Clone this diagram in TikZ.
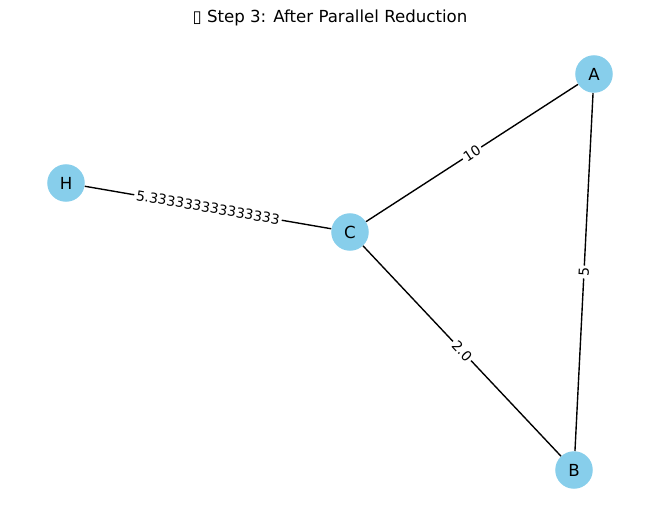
\documentclass[tikz,border=0pt]{standalone}
\usepackage{fontspec}
\setmainfont{DejaVu Sans}
\definecolor{skyblue}{HTML}{87CEEB}
\begin{document}
\begin{tikzpicture}[x=0.01in,y=-0.01in,
  vertex/.style={circle,fill=skyblue,draw=none,minimum size=0.375in,inner sep=0pt,font=\fontsize{12}{14}\selectfont},
  edge/.style={draw=black,line width=1pt},
  elabel/.style={fill=white,inner sep=1.5pt,font=\fontsize{10}{12}\selectfont,sloped,midway}]
\useasboundingbox (0,0) rectangle (660,522);
\node[font=\fontsize{12}{14}\selectfont] (title) at (330,18) {▯ Step 3: After Parallel Reduction};
\node[vertex] (A) at (594,74) {A};
\node[vertex] (B) at (574,470) {B};
\node[vertex] (C) at (350,232) {C};
\node[vertex] (H) at (66,183) {H};
\draw[edge] (H) -- node[elabel] {5.333333333333333} (C);
\draw[edge] (C) -- node[elabel] {10} (A);
\draw[edge] (A) -- node[elabel] {5} (B);
\draw[edge] (C) -- node[elabel] {2.0} (B);
\end{tikzpicture}
\end{document}
